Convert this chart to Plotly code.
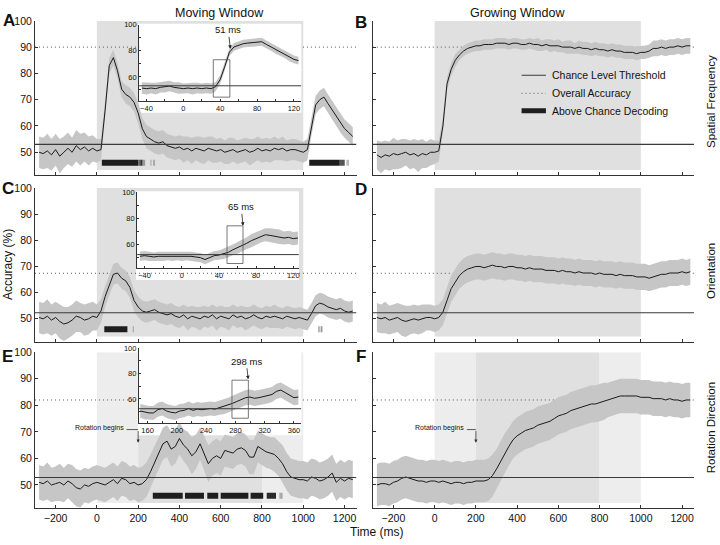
import plotly.graph_objects as go

W, H = 720, 545
FONT = "Liberation Sans, Arial, Helvetica, sans-serif"

# =============================================================================
# DATA (accuracy in %, time in ms)
# =============================================================================
TIME = [-280, -260, -240, -220, -200, -180, -160, -140, -120, -100, -80, -60, -40, -20,
        0, 20, 40, 60, 80, 100, 120, 140, 160, 180,
        200, 220, 240, 260, 280, 300, 320, 340, 360, 380,
        400, 420, 440, 460, 480, 500, 520, 540, 560, 580,
        600, 620, 640, 660, 680, 700, 720, 740, 760, 780,
        800, 820, 840, 860, 880, 900, 920, 940, 960, 980,
        1000, 1020, 1040, 1060, 1080, 1100, 1120, 1140, 1160, 1180,
        1200, 1220, 1240]

# A - spatial frequency, moving window
ACC_A = [50, 49.5, 50.5, 49, 51, 48.5, 50, 51.5, 50, 52.5, 51, 52, 50.5, 51.5,
         50.5, 51, 66, 83, 86, 81, 74, 72, 71, 69,
         65, 59, 56, 55, 54, 53.5, 54, 52.5, 52, 51.5,
         52, 51, 51.5, 50.5, 51.5, 51, 50.5, 51.5, 51, 50.5,
         51, 50, 50.5, 51, 50, 50.5, 51, 50, 50.5, 51.5,
         50.5, 51, 50.5, 51.5, 51, 51.5, 50.5, 51, 51, 50.5,
         50, 51, 60, 68, 70, 71, 68.5, 66, 63.5, 61,
         59, 57.5, 56]
HW_A = [6, 6, 6.5, 6, 6, 6.5, 6, 6, 5.5, 6, 6, 5.5, 5.5, 5,
        4.5, 4, 3.5, 3, 3, 3, 3, 3.5, 3.5, 3.5,
        4, 4, 4.5, 4.5, 4.5, 4.5, 4.5, 4.5, 4.5, 4.5,
        4.5, 5, 4.5, 5, 4.5, 5, 5, 4.5, 5, 4.5,
        4.5, 4.5, 5, 4.5, 4.5, 4.5, 4.5, 5, 4.5, 4.5,
        4.5, 4.5, 4.5, 4.5, 4, 4.5, 4, 4, 4, 4,
        4, 4, 3.5, 3.5, 3.5, 3.5, 3.5, 3.5, 3.5, 3.5,
        3.5, 3.5, 3.5]

# B - spatial frequency, growing window
ACC_B = [49, 48, 49, 48.5, 49.5, 49, 49.5, 50, 49, 49.5, 48.5, 49.5, 49, 50,
         50, 50.5, 60, 76, 81.5, 85, 87, 88.5, 89.5, 90,
         90.5, 90.5, 91, 91, 91, 91.5, 91.5, 91.5, 91, 91.5,
         91.5, 91, 91, 91.5, 91, 91, 90.5, 91, 90.5, 90.5,
         90.5, 90, 90, 90, 89.5, 90, 89.5, 89.5, 89, 89.5,
         89, 89, 88.5, 89, 88.5, 88.5, 88, 88, 88, 87.5,
         88, 88, 88.5, 89.5, 89.5, 90, 89.5, 90, 90, 90.5,
         90, 90.5, 90.5]
HW_B = [5.5, 6, 5.5, 5.5, 6, 5.5, 5.5, 5, 5.5, 5.5, 6, 5.5, 5, 5,
        4.5, 4, 3, 2.5, 2.5, 2.5, 2, 2, 2, 2,
        2, 2, 2, 2, 2, 2, 2, 2, 2, 2,
        2, 2, 2, 2, 2, 2.5, 2, 2, 2.5, 2,
        2.5, 2, 2.5, 2.5, 2, 2.5, 2.5, 2.5, 2.5, 2.5,
        2.5, 2.5, 2.5, 2.5, 2.5, 2.5, 2.5, 2.5, 2.5, 2.5,
        2.5, 2.5, 2.5, 3, 3, 3, 3, 3, 3, 3,
        3, 3, 3]

# C - orientation, moving window
ACC_C = [50.5, 50, 51, 49.5, 50.5, 49, 48, 48.5, 49.5, 51, 50.5, 49.5, 50, 51,
         50.5, 53, 58.5, 63, 67, 67.5, 65.5, 64.5, 62, 57,
         54.5, 53, 52.5, 53, 53.5, 52.5, 52, 51.5, 52, 51,
         50.5, 51.5, 50, 51, 50.5, 50, 51, 50.5, 51.5, 50,
         51, 50.5, 50, 51.5, 50.5, 51, 50, 50.5, 51.5, 50.5,
         50, 51, 50.5, 51, 50.5, 50, 51, 50.5, 50, 50.5,
         50, 49.5, 52, 55, 56, 55.5, 54.5, 54, 53.5, 54,
         53, 52.5, 53]
HW_C = [6, 6, 6.5, 6, 6, 6.5, 6.5, 6, 6, 6, 5.5, 6, 6, 5.5,
        5, 4.5, 4, 4, 4, 4, 4, 4, 4, 4,
        4, 4, 4, 4, 4, 4, 4, 4, 4, 4,
        4, 4, 4.5, 4, 4, 4.5, 4, 4, 4, 4.5,
        4, 4, 4.5, 4, 4, 4, 4.5, 4, 4, 4,
        4, 4, 4, 4.5, 4, 4, 4, 4, 4, 4,
        4, 4, 4, 4, 4, 4, 4, 4, 4, 4,
        4, 4, 4]

# D - orientation, growing window
ACC_D = [50.5, 50, 50.5, 49.5, 50, 50.5, 49.5, 49, 49.5, 50, 49.5, 50, 50.5, 50.5,
         50, 50.5, 52.5, 57, 61.5, 64, 66.5, 68, 69, 69.5,
         70, 70, 69.5, 70, 70.5, 70, 70, 69.5, 70, 70,
         69.5, 69.5, 69, 69.5, 69, 69, 69, 68.5, 68.5, 68.5,
         68, 68.5, 68, 68, 67.5, 68, 67.5, 67.5, 67.5, 67,
         67.5, 67, 67, 67, 66.5, 67, 66.5, 66.5, 66.5, 66,
         66, 66, 65.5, 66, 66.5, 67, 67, 67.5, 67.5, 67.5,
         68, 67.5, 68]
HW_D = [5.5, 5.5, 6, 5.5, 5.5, 5.5, 6, 6, 5.5, 5.5, 5.5, 5.5, 5, 5,
        5, 5, 5, 5, 5, 5, 5, 5, 5, 5,
        5, 5, 5, 5, 5, 5, 5, 5, 5, 5,
        5, 5, 5, 5, 5, 5, 5, 5, 5, 5,
        5, 5, 5, 5, 5, 5, 5, 5, 5, 5,
        5, 5, 5, 5, 5, 5, 5, 5, 5, 5,
        5, 5, 5, 5, 5, 5, 5, 5, 5, 5,
        5, 5, 5]

# E - rotation direction, moving window
ACC_E = [51, 50.5, 51.5, 50, 50.5, 51, 50, 51.5, 50.5, 49, 48.5, 50, 49.5, 50.5,
         51, 50.5, 50, 51, 52, 50.5, 52.5, 52, 50.5, 51,
         50, 50.5, 52, 55, 58.5, 62, 65.5, 66.5, 63.5, 64.5,
         67.5, 65, 63.5, 61, 62.5, 65.5, 62, 58, 60, 61,
         60, 63, 62.5, 62, 63.5, 64, 63, 60.5, 60.5, 64.5,
         63.5, 62.5, 62, 61.5, 60, 58, 55, 53, 52.5, 52,
         52, 51.5, 53, 52.5, 51.5, 52, 53, 54.5, 51, 52.5,
         51.5, 52.5, 52]
HW_E = [6.5, 6.5, 7, 6.5, 6.5, 7, 6.5, 6.5, 7, 7, 7, 6.5, 6.5, 6.5,
        6.5, 6.5, 6.5, 6.5, 6.5, 6.5, 6.5, 6.5, 6.5, 6.5,
        6.5, 6.5, 6.5, 6.5, 6, 6, 6, 6, 6.5, 6.5,
        6, 6, 6.5, 7, 6.5, 6, 6.5, 7, 6.5, 6.5,
        6.5, 6, 6, 6, 6, 6, 6, 6.5, 6.5, 6,
        6, 6, 6, 6.5, 6.5, 7, 7, 7, 7, 7,
        7, 7, 7, 7, 7, 7, 7, 7, 7, 7,
        7, 7, 7]

# F - rotation direction, growing window
ACC_F = [50, 50.5, 50.5, 50, 51, 51.5, 52.5, 53, 52.5, 52, 51.5, 51.5, 51, 51.5,
         51.5, 51, 51.5, 51, 50.5, 51, 51, 50.5, 51, 51,
         51.5, 51.5, 51.5, 52, 53.5, 56, 59, 62, 64.5, 67,
         68.5, 69.5, 70.5, 71, 71.5, 72.5, 73, 73.5, 74, 75,
         76, 76.5, 77, 78, 78.5, 79, 79.5, 80, 80.5, 80.5,
         81, 81.5, 82, 82.5, 83, 83.5, 83.5, 83.5, 83.5, 83.5,
         83, 83, 83, 82.5, 82.5, 82.5, 82, 82.5, 82, 82,
         81.5, 82, 82]
HW_F = [8, 8, 8, 8, 8, 8, 8, 8, 8, 8, 8, 8, 8, 8,
        8, 8, 8, 8, 8, 8, 8, 8, 8, 8,
        8, 8, 8, 8, 8, 7.5, 7.5, 7.5, 7, 7,
        7, 7, 7, 7, 7, 7, 7, 7, 7, 7,
        7, 7, 7, 7, 7, 7, 7, 7, 7, 7,
        7, 7, 6.5, 6.5, 6.5, 6.5, 6.5, 6.5, 6.5, 6.5,
        6.5, 6.5, 6.5, 6.5, 6.5, 6.5, 6.5, 6.5, 6.5, 6.5,
        6.5, 6.5, 6.5]

CHANCE = [53, 53, 52.3, 52.3, 52.8, 52.8]
OVERALL = [90, 90, 67.4, 67.4, 82, 82]

# above-chance decoding segments (ms) and their grey level
SIG_A_START = [24, 201, 210, 222, 258, 272, 1029, 1177, 1209]
SIG_A_END = [201, 210, 222, 234, 266, 282, 1177, 1201, 1222]
SIG_A_COLOR = ['#1e1e1e', '#666', '#333', '#999', '#bbb', '#aaa', '#1e1e1e', '#555', '#bbb']
SIG_C_START = [36, 174, 1072, 1084]
SIG_C_END = [148, 178, 1080, 1093]
SIG_C_COLOR = ['#1e1e1e', '#888', '#aaa', '#999']
SIG_E_START = [271, 427, 535, 600, 745, 823, 884]
SIG_E_END = [416, 519, 588, 734, 806, 868, 900]
SIG_E_COLOR = ['#1e1e1e', '#1e1e1e', '#1e1e1e', '#1e1e1e', '#1e1e1e', '#2a2a2a', '#aaa']

# insets (zoom around decoding onset)
IN_TIME_AC = [-45, -40, -35, -30, -25, -20, -15, -10, -5, 0, 5, 10, 15, 20, 25, 30, 35,
              40, 45, 50, 55, 60, 65, 70, 75, 80, 85, 90, 95, 100, 105, 110, 115, 120, 125]
IN_ACC_A = [51.5, 51, 51.5, 51, 52, 52.5, 53, 52, 51.5, 51, 51.5, 51, 51.5, 51, 51.5, 51, 52.5,
            58, 68, 79, 83, 84.5, 85.5, 86, 86.5, 86.5, 87, 85, 83, 81, 79, 77.5, 75, 73.5, 72.5]
IN_HW_A = [4.5, 4.5, 4, 4.5, 4, 4.5, 4, 4, 4.5, 4, 4, 4.5, 4, 4, 4, 4, 3.5,
           3.5, 3.5, 3, 3, 3, 3, 3, 3, 3, 3, 3, 3, 3, 3, 3, 3, 3, 3]
IN_ACC_C = [51, 51.5, 51, 50.5, 51, 51, 51.5, 51, 51.5, 51, 51.5, 51, 50.5, 50, 48.5, 50, 51.5,
            52, 53, 54, 56, 57.5, 59, 61, 63, 64.5, 66.5, 67.5, 67, 66.5, 66, 65, 65.5, 64.5, 65]
IN_HW_C = [3.5, 3.5, 3.5, 3.5, 3.5, 3.5, 3.5, 3.5, 3.5, 3.5, 3.5, 3.5, 3.5, 3.5, 3.5, 3.5, 3.5,
           3.5, 4, 4, 4, 4.5, 4.5, 4.5, 5, 5, 5, 5, 5.5, 5.5, 5.5, 5, 5, 5, 5]
IN_TIME_E = [150, 156, 162, 168, 174, 180, 186, 192, 198, 204, 210, 216, 222, 228, 234, 240,
             246, 252, 258, 264, 270, 276, 282, 288, 294, 300, 306, 312, 318, 324, 330, 336,
             342, 348, 354, 360, 366]
IN_ACC_E = [50.5, 49.5, 49, 49, 51.5, 52.5, 50.5, 49.5, 49, 50.5, 51, 52.5, 51, 52, 51.5, 52,
            52.5, 52, 53, 54, 55, 56.5, 58, 59.5, 61, 61.5, 60.5, 61, 62, 62.5, 63.5, 66,
            67, 65, 63, 61, 61.5]
IN_HW_E = [5.5, 5.5, 5.5, 5.5, 5.5, 5.5, 5.5, 5.5, 5.5, 5.5, 5.5, 5.5, 5.5, 5.5, 5.5, 5.5,
           5.5, 5.5, 5.5, 6, 6, 6, 6, 6, 6, 6, 6, 6, 6, 6, 6, 6,
           6, 6, 6, 6, 6]
IN_CHANCE = [53.2, 52.3, 52.3]
ONSET_MS = [51, 66, 297.5]
ONSET_LABEL = ['51 ms', '65 ms', '298 ms']

LEGEND_LABELS = ['Chance Level Threshold', 'Overall Accuracy', 'Above Chance Decoding']
ROW_LABELS = ['Spatial Frequency', 'Orientation', 'Rotation Direction']

# =============================================================================
# GEOMETRY (pixels in the 720x545 page)
# =============================================================================
COL_PX = [(35, 357), (373.3, 695)]
ROW_PX = [(15, 171), (184, 339.3), (350, 507.7)]
X_RANGE = [-300, 1258]
Y_RANGE = [41.3, 100]
X_TICKS = [-200, 0, 200, 400, 600, 800, 1000, 1200]
Y_TICKS = [50, 60, 70, 80, 90, 100]

# inset: x px, y px, x range, y range, label-area bottom px
INSETS = [
    dict(px=(139.3, 301.7), py=(19, 95.7), xr=[-48, 128], yr=[41.8, 100], bottom=108,
         box=(32.5, 50.5, 44.5, 73.2), tip=81.6, ay=-19),
    dict(px=(137.3, 299.3), py=(188.3, 265), xr=[-48, 126], yr=[42, 100], bottom=277,
         box=(48.7, 65.9, 45.5, 74.3), tip=74.3, ay=-19),
    dict(px=(139, 301.7), py=(346, 421.7), xr=[148, 370], yr=[41, 100], bottom=434,
         box=(275.3, 297.7, 44.8, 74.8), tip=75.5, ay=-18),
]


def aid(n):
    return '' if n == 1 else str(n)


def px2data(n, px, py):
    col, row = (n - 1) % 2, (n - 1) // 2
    x0, x1 = COL_PX[col]
    y0, y1 = ROW_PX[row]
    xv = X_RANGE[0] + (px - x0) / (x1 - x0) * (X_RANGE[1] - X_RANGE[0])
    yv = Y_RANGE[1] - (py - y0) / (y1 - y0) * (Y_RANGE[1] - Y_RANGE[0])
    return xv, yv


def paper_text(text, px, py, size, **kw):
    d = dict(text=text, x=px / W, y=1 - py / H, xref='paper', yref='paper', showarrow=False,
             xanchor='center', yanchor='middle',
             font=dict(size=size, family=FONT, color='#111'))
    d.update(kw)
    return d


axis_style = dict(showline=True, linecolor='#333', linewidth=1, ticks='inside', ticklen=3,
                  tickcolor='#333', showgrid=False, zeroline=False,
                  tickfont=dict(size=10.5, family=FONT, color='#111'))

ACC = [ACC_A, ACC_B, ACC_C, ACC_D, ACC_E, ACC_F]
HW = [HW_A, HW_B, HW_C, HW_D, HW_E, HW_F]
SIGS = {1: (SIG_A_START, SIG_A_END, SIG_A_COLOR),
        3: (SIG_C_START, SIG_C_END, SIG_C_COLOR),
        5: (SIG_E_START, SIG_E_END, SIG_E_COLOR)}
BAR_Y = 46

fig = go.Figure()
layout = {}
shapes = []
annotations = []

for i in range(6):
    n = i + 1
    col, row = i % 2, i // 2
    x0, x1 = COL_PX[col]
    y0, y1 = ROW_PX[row]
    xa, ya = 'x' + aid(n), 'y' + aid(n)
    layout['xaxis' + aid(n)] = dict(domain=[x0 / W, x1 / W], anchor=ya, range=X_RANGE,
                                   tickvals=X_TICKS, showticklabels=(row == 2), **axis_style)
    layout['yaxis' + aid(n)] = dict(domain=[1 - y1 / H, 1 - y0 / H], anchor=xa, range=Y_RANGE,
                                   tickvals=Y_TICKS, showticklabels=(col == 0), **axis_style)

    # stimulus shading
    if row < 2:
        spans = [(0, 1000, '#e0e0e0')]
    else:
        spans = [(0, 200, '#ededed'), (200, 800, '#e0e0e0'), (800, 1000, '#ededed')]
    for s, e, c in spans:
        shapes.append(dict(type='rect', xref=xa, yref=ya, x0=s, x1=e, y0=43.2, y1=100,
                           fillcolor=c, line=dict(width=0), layer='below'))

    # white area behind inset (incl. tick labels)
    if col == 0:
        ins = INSETS[row]
        wx0, wy1 = px2data(n, ins['px'][0] - 1, ins['py'][0] - 1)
        wx1, wy0 = px2data(n, ins['px'][1], ins['bottom'])
        shapes.append(dict(type='rect', xref=xa, yref=ya, x0=wx0, x1=wx1, y0=wy0, y1=wy1,
                           fillcolor='white', line=dict(width=0), layer='below'))

    fig.add_trace(go.Scatter(x=X_RANGE, y=[OVERALL[i]] * 2, mode='lines', xaxis=xa, yaxis=ya,
                             line=dict(color='#555', width=1, dash='1px,3px')))
    upper = [a + h for a, h in zip(ACC[i], HW[i])]
    lower = [a - h for a, h in zip(ACC[i], HW[i])]
    fig.add_trace(go.Scatter(x=TIME + TIME[::-1], y=upper + lower[::-1], fill='toself',
                             fillcolor='#c6c6c6', line=dict(width=0), mode='lines',
                             xaxis=xa, yaxis=ya))
    fig.add_trace(go.Scatter(x=TIME, y=ACC[i], mode='lines', xaxis=xa, yaxis=ya,
                             line=dict(color='#1a1a1a', width=1)))
    fig.add_trace(go.Scatter(x=X_RANGE, y=[CHANCE[i]] * 2, mode='lines', xaxis=xa, yaxis=ya,
                             line=dict(color='#3a3a3a', width=1.1)))
    if n in SIGS:
        for s, e, c in zip(*SIGS[n]):
            fig.add_trace(go.Scatter(x=[s, e], y=[BAR_Y, BAR_Y], mode='lines', xaxis=xa,
                                     yaxis=ya, line=dict(color=c, width=6)))

# ---- insets
IN_T = [IN_TIME_AC, IN_TIME_AC, IN_TIME_E]
IN_A = [IN_ACC_A, IN_ACC_C, IN_ACC_E]
IN_H = [IN_HW_A, IN_HW_C, IN_HW_E]
for k, ins in enumerate(INSETS):
    n = 7 + k
    xa, ya = 'x' + str(n), 'y' + str(n)
    if k < 2:
        xt = [-40, -20, 0, 20, 40, 60, 80, 100, 120]
        xl = ['\u221240', '', '0', '', '40', '', '80', '', '120']
    else:
        xt = [160, 180, 200, 220, 240, 260, 280, 300, 320, 340, 360]
        xl = ['160', '', '200', '', '240', '', '280', '', '320', '', '360']
    in_style = dict(axis_style, ticklen=2, linewidth=0.8,
                    tickfont=dict(size=7.5, family=FONT, color='#111'))
    layout['xaxis' + str(n)] = dict(domain=[ins['px'][0] / W, ins['px'][1] / W], anchor=ya,
                                    range=ins['xr'], tickvals=xt, ticktext=xl, **in_style)
    layout['yaxis' + str(n)] = dict(domain=[1 - ins['py'][1] / H, 1 - ins['py'][0] / H],
                                    anchor=xa, range=ins['yr'], tickvals=Y_TICKS,
                                    ticktext=['', '60', '', '80', '', '100'], **in_style)
    shapes.append(dict(type='rect', xref=xa, yref=ya, x0=ins['xr'][0], x1=ins['xr'][1],
                       y0=ins['yr'][0], y1=ins['yr'][1], fillcolor='white',
                       line=dict(width=0), layer='below'))
    t, a, h = IN_T[k], IN_A[k], IN_H[k]
    up = [v + w for v, w in zip(a, h)]
    lo = [v - w for v, w in zip(a, h)]
    fig.add_trace(go.Scatter(x=t + t[::-1], y=up + lo[::-1], fill='toself', fillcolor='#c6c6c6',
                             line=dict(width=0), mode='lines', xaxis=xa, yaxis=ya))
    fig.add_trace(go.Scatter(x=t, y=a, mode='lines', xaxis=xa, yaxis=ya,
                             line=dict(color='#1a1a1a', width=1)))
    fig.add_trace(go.Scatter(x=ins['xr'], y=[IN_CHANCE[k]] * 2, mode='lines', xaxis=xa,
                             yaxis=ya, line=dict(color='#3a3a3a', width=1)))
    bx0, bx1, by0, by1 = ins['box']
    shapes.append(dict(type='rect', xref=xa, yref=ya, x0=bx0, x1=bx1, y0=by0, y1=by1,
                       line=dict(color='#555', width=0.8), layer='above'))
    annotations.append(dict(x=ONSET_MS[k], y=ins['tip'], xref=xa, yref=ya, text=ONSET_LABEL[k],
                            showarrow=True, ax=-2, ay=ins['ay'], arrowhead=2, arrowsize=0.9,
                            arrowwidth=0.8, arrowcolor='#222', standoff=0,
                            font=dict(size=9.5, family=FONT, color='#111')))

# ---- legend inside panel B
for j, lab in enumerate(LEGEND_LABELS):
    py = [70, 88.3, 106][j]
    lx0, ly = px2data(2, 522.3, py)
    lx1, _ = px2data(2, 546.7, py)
    sty = [dict(color='#3a3a3a', width=1.1), dict(color='#555', width=1, dash='1px,3px'),
           dict(color='#1e1e1e', width=5)][j]
    fig.add_trace(go.Scatter(x=[lx0, lx1], y=[ly, ly], mode='lines', xaxis='x2', yaxis='y2',
                             line=sty))
    annotations.append(paper_text(lab, 550.7, py, 10.5, xanchor='left'))

# ---- "Rotation begins" markers in E and F
for n, tx_end in [(5, 125.7), (6, 466.5)]:
    xa, ya = 'x' + aid(n), 'y' + aid(n)
    annotations.append(paper_text('Rotation begins', tx_end, 426.3, 7, xanchor='right'))
    hx0, hy = px2data(n, tx_end + 1, 428.3)
    _, tip = px2data(n, 0, 441.5)
    shapes.append(dict(type='line', xref=xa, yref=ya, x0=hx0, x1=200, y0=hy, y1=hy,
                       line=dict(color='#333', width=0.8), layer='above'))
    annotations.append(dict(x=200, y=tip, xref=xa, yref=ya, axref=xa, ayref=ya, ax=200, ay=hy,
                            text='', showarrow=True, arrowhead=2, arrowsize=0.8,
                            arrowwidth=0.8, arrowcolor='#333', standoff=0))

# ---- titles and labels
annotations += [
    paper_text('Moving Window', 220, 7, 12.5),
    paper_text('Growing Window', 518, 7, 12.5),
    paper_text('Accuracy (%)', 8, 261, 12, textangle=-90),
    paper_text('Time (ms)', 378, 532, 12),
]
for lab, py in zip(ROW_LABELS, [97, 268, 427]):
    annotations.append(paper_text(lab, 712, py, 11.5, textangle=-90))
for letter, px, py in [('A', 9, 15), ('B', 362, 17), ('C', 8, 185),
                       ('D', 362, 186), ('E', 8, 354), ('F', 362, 354)]:
    annotations.append(paper_text('<b>' + letter + '</b>', px, py, 17))

fig.update_layout(**layout)
fig.update_layout(width=W, height=H, margin=dict(l=0, r=0, t=0, b=0), autosize=False,
                  paper_bgcolor='white', plot_bgcolor='rgba(0,0,0,0)', showlegend=False,
                  font=dict(family=FONT, color='#111'), shapes=shapes, annotations=annotations)

# the page body has a default margin; drop it so the figure sits at the window corner
fig.write_html("out.html", config={'displayModeBar': False},
               post_script="document.body.style.margin='0px';")
